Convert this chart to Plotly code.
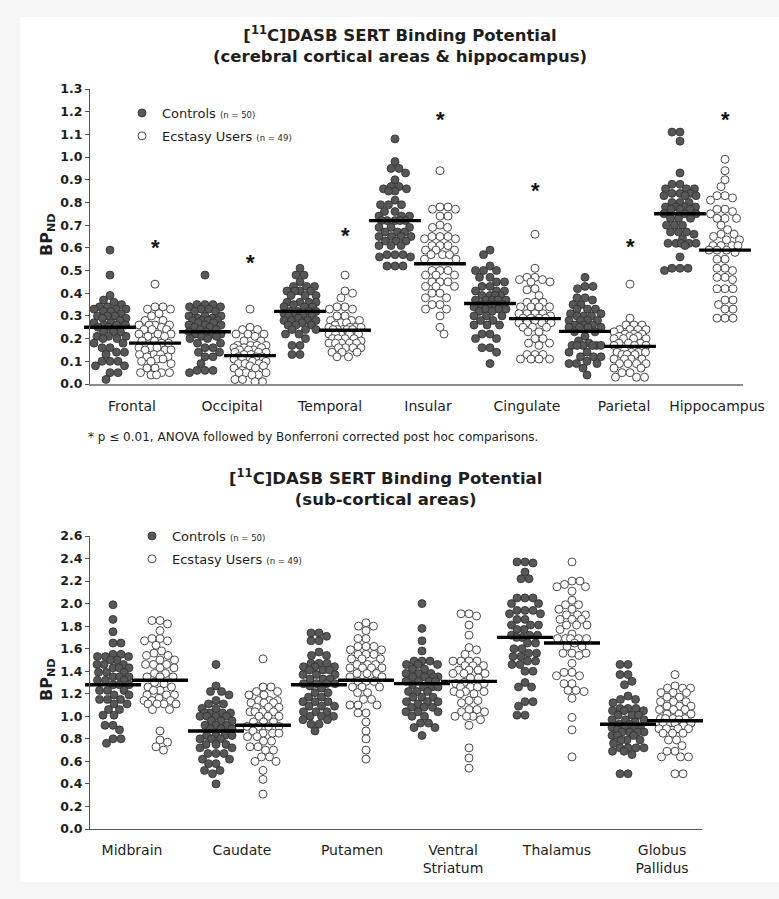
import math
import plotly.graph_objects as go

# ---------------- data ----------------
top_regions = ["Frontal", "Occipital", "Temporal", "Insular", "Cingulate", "Parietal", "Hippocampus"]
bottom_regions = ["Midbrain", "Caudate", "Putamen", "Ventral<br>Striatum", "Thalamus", "Globus<br>Pallidus"]

frontal_ctrl = [0.59,0.48,0.39,0.37,0.36,0.35,0.34,0.34,0.33,0.33,0.33,0.32,0.32,0.31,0.30,0.30,0.30,0.29,0.29,0.28,
                0.27,0.27,0.26,0.26,0.26,0.25,0.25,0.23,0.23,0.23,0.21,0.21,0.21,0.20,0.20,0.18,0.18,0.16,0.16,0.14,
                0.14,0.13,0.10,0.10,0.10,0.08,0.08,0.05,0.05,0.02]
frontal_ecs = [0.44,0.34,0.34,0.33,0.33,0.31,0.30,0.28,0.28,0.26,0.26,0.26,0.26,0.25,0.24,0.24,0.24,0.22,0.22,0.22,
               0.21,0.21,0.19,0.19,0.18,0.18,0.16,0.16,0.16,0.15,0.15,0.15,0.13,0.13,0.13,0.12,0.12,0.11,0.11,0.10,
               0.10,0.09,0.07,0.07,0.05,0.05,0.05,0.04,0.04]
occipital_ctrl = [0.48,0.35,0.35,0.35,0.34,0.34,0.33,0.33,0.32,0.32,0.30,0.30,0.30,0.29,0.29,0.28,0.28,0.28,0.28,0.27,
                  0.27,0.26,0.26,0.26,0.25,0.25,0.24,0.24,0.23,0.23,0.22,0.22,0.22,0.21,0.21,0.20,0.20,0.18,0.18,0.16,
                  0.16,0.14,0.14,0.12,0.12,0.09,0.06,0.06,0.06,0.05]
occipital_ecs = [0.33,0.25,0.24,0.24,0.22,0.22,0.22,0.21,0.19,0.19,0.17,0.17,0.17,0.17,0.16,0.16,0.16,0.15,0.15,0.15,
                 0.14,0.14,0.14,0.13,0.13,0.12,0.12,0.12,0.11,0.11,0.11,0.10,0.10,0.09,0.09,0.09,0.08,0.08,0.07,0.07,
                 0.05,0.05,0.05,0.04,0.04,0.02,0.02,0.01,0.01]
temporal_ctrl = [0.51,0.48,0.48,0.45,0.43,0.43,0.43,0.41,0.41,0.41,0.41,0.39,0.39,0.39,0.36,0.36,0.36,0.36,0.35,0.34,
                 0.34,0.34,0.32,0.32,0.32,0.32,0.31,0.30,0.30,0.30,0.30,0.29,0.28,0.28,0.28,0.28,0.27,0.26,0.26,0.26,
                 0.24,0.24,0.24,0.22,0.22,0.20,0.17,0.17,0.13,0.13]
temporal_ecs = [0.48,0.41,0.40,0.38,0.34,0.34,0.33,0.33,0.30,0.30,0.28,0.28,0.28,0.27,0.27,0.26,0.25,0.25,0.25,0.25,
                0.24,0.24,0.24,0.24,0.24,0.22,0.22,0.22,0.22,0.22,0.20,0.20,0.20,0.20,0.19,0.18,0.18,0.18,0.18,0.18,
                0.16,0.16,0.16,0.16,0.14,0.14,0.14,0.12,0.12]
insular_ctrl = [1.08,0.98,0.95,0.95,0.93,0.90,0.87,0.87,0.86,0.86,0.85,0.85,0.81,0.79,0.79,0.79,0.76,0.76,0.74,0.74,
                0.74,0.72,0.72,0.72,0.72,0.72,0.69,0.69,0.69,0.67,0.67,0.67,0.65,0.65,0.65,0.65,0.63,0.63,0.63,0.61,
                0.61,0.61,0.57,0.57,0.57,0.56,0.56,0.52,0.52,0.52]
insular_ecs = [0.94,0.78,0.78,0.77,0.77,0.74,0.74,0.70,0.69,0.69,0.65,0.65,0.65,0.64,0.64,0.61,0.61,0.61,0.59,0.59,
               0.59,0.57,0.57,0.57,0.55,0.55,0.50,0.50,0.50,0.48,0.48,0.48,0.45,0.45,0.45,0.43,0.43,0.43,0.40,0.40,
               0.38,0.38,0.35,0.35,0.33,0.33,0.30,0.25,0.22]
cingulate_ctrl = [0.59,0.57,0.52,0.50,0.50,0.50,0.47,0.47,0.45,0.45,0.43,0.43,0.41,0.41,0.41,0.39,0.39,0.39,0.39,0.37,
                  0.37,0.37,0.37,0.37,0.35,0.35,0.35,0.35,0.34,0.33,0.33,0.33,0.32,0.32,0.30,0.30,0.30,0.28,0.28,0.26,
                  0.26,0.26,0.22,0.22,0.20,0.20,0.16,0.16,0.14,0.09]
cingulate_ecs = [0.66,0.51,0.47,0.47,0.46,0.46,0.45,0.45,0.42,0.415,0.39,0.36,0.36,0.36,0.34,0.34,0.34,0.34,0.31,0.31,
                 0.31,0.31,0.30,0.29,0.29,0.29,0.29,0.28,0.27,0.27,0.27,0.27,0.25,0.25,0.25,0.23,0.23,0.20,0.20,0.18,
                 0.18,0.17,0.13,0.13,0.13,0.11,0.11,0.11,0.11]
parietal_ctrl = [0.47,0.43,0.43,0.42,0.38,0.38,0.37,0.35,0.35,0.33,0.33,0.33,0.31,0.31,0.30,0.30,0.30,0.28,0.28,0.28,
                 0.28,0.26,0.26,0.26,0.25,0.25,0.25,0.25,0.23,0.23,0.21,0.19,0.18,0.17,0.17,0.17,0.17,0.17,0.17,0.14,
                 0.14,0.12,0.12,0.12,0.10,0.09,0.09,0.09,0.07,0.04]
parietal_ecs = [0.44,0.29,0.26,0.26,0.26,0.24,0.24,0.24,0.24,0.23,0.22,0.22,0.22,0.21,0.21,0.21,0.20,0.20,0.20,0.20,
                0.18,0.18,0.18,0.17,0.17,0.17,0.15,0.14,0.14,0.14,0.14,0.13,0.13,0.13,0.11,0.11,0.11,0.11,0.09,0.09,
                0.09,0.09,0.07,0.07,0.05,0.05,0.03,0.03,0.03]
hippocampus_ctrl = [1.11,1.11,1.07,0.93,0.88,0.88,0.86,0.86,0.86,0.84,0.84,0.84,0.83,0.83,0.83,0.80,0.80,0.80,0.78,0.78,
                    0.78,0.78,0.77,0.77,0.77,0.75,0.75,0.75,0.73,0.73,0.73,0.70,0.70,0.70,0.67,0.67,0.67,0.66,0.64,0.62,
                    0.62,0.62,0.62,0.62,0.61,0.56,0.51,0.51,0.51,0.50]
hippocampus_ecs = [0.99,0.94,0.90,0.87,0.83,0.83,0.82,0.81,0.77,0.77,0.76,0.75,0.73,0.73,0.73,0.70,0.68,0.66,0.66,0.65,
                   0.635,0.635,0.61,0.61,0.61,0.61,0.59,0.59,0.59,0.58,0.55,0.55,0.51,0.51,0.50,0.47,0.47,0.46,0.42,0.42,
                   0.42,0.37,0.37,0.35,0.33,0.33,0.29,0.29,0.29]

midbrain_ctrl = [1.99,1.86,1.75,1.65,1.65,1.55,1.55,1.53,1.53,1.53,1.50,1.50,1.46,1.46,1.46,1.43,1.43,1.43,1.39,1.39,
                 1.39,1.35,1.35,1.35,1.32,1.32,1.32,1.28,1.28,1.28,1.23,1.23,1.23,1.19,1.19,1.15,1.15,1.15,1.11,1.11,
                 1.06,1.06,1.01,1.01,0.92,0.92,0.88,0.80,0.80,0.76]
midbrain_ecs = [1.85,1.85,1.82,1.76,1.69,1.69,1.67,1.67,1.63,1.58,1.56,1.54,1.54,1.50,1.50,1.46,1.46,1.46,1.43,1.43,
                1.38,1.38,1.35,1.35,1.35,1.30,1.29,1.26,1.26,1.23,1.23,1.19,1.19,1.19,1.16,1.14,1.14,1.14,1.11,1.11,
                1.11,1.11,1.06,1.06,0.87,0.79,0.77,0.73,0.70]
caudate_ctrl = [1.46,1.27,1.22,1.22,1.19,1.14,1.11,1.11,1.07,1.07,1.03,1.03,1.03,1.03,1.00,1.00,1.00,1.00,0.96,0.96,
                0.96,0.92,0.92,0.92,0.89,0.89,0.89,0.83,0.83,0.83,0.83,0.80,0.80,0.80,0.75,0.75,0.75,0.72,0.72,0.67,
                0.67,0.67,0.62,0.62,0.58,0.58,0.52,0.52,0.49,0.40]
caudate_ecs = [1.51,1.26,1.26,1.22,1.22,1.19,1.19,1.14,1.14,1.14,1.12,1.12,1.12,1.08,1.08,1.08,1.04,1.04,1.04,1.04,
               1.00,1.00,1.00,0.95,0.95,0.95,0.91,0.91,0.91,0.91,0.87,0.85,0.85,0.85,0.82,0.82,0.78,0.78,0.73,0.73,
               0.70,0.70,0.64,0.64,0.60,0.60,0.52,0.44,0.31]
putamen_ctrl = [1.74,1.74,1.71,1.67,1.67,1.57,1.54,1.54,1.47,1.47,1.47,1.44,1.44,1.44,1.41,1.41,1.41,1.37,1.37,1.37,
                1.33,1.33,1.33,1.29,1.29,1.29,1.29,1.27,1.25,1.21,1.21,1.17,1.17,1.13,1.13,1.13,1.09,1.09,1.09,1.04,
                1.04,1.04,1.00,1.00,1.00,0.97,0.97,0.93,0.93,0.87]
putamen_ecs = [1.83,1.80,1.80,1.76,1.69,1.69,1.62,1.62,1.62,1.59,1.59,1.55,1.55,1.55,1.51,1.51,1.51,1.46,1.46,1.46,
               1.43,1.43,1.43,1.43,1.38,1.38,1.38,1.35,1.35,1.31,1.31,1.31,1.26,1.26,1.26,1.21,1.21,1.15,1.15,1.10,
               1.10,1.10,1.03,1.03,0.95,0.87,0.80,0.70,0.62]
vs_ctrl = [2.00,1.78,1.67,1.58,1.49,1.49,1.49,1.46,1.46,1.46,1.42,1.42,1.38,1.38,1.38,1.35,1.35,1.35,1.35,1.31,
           1.31,1.31,1.31,1.28,1.26,1.26,1.26,1.22,1.22,1.22,1.17,1.17,1.17,1.13,1.13,1.13,1.11,1.08,1.08,1.08,
           1.04,1.04,1.04,1.00,1.00,0.94,0.94,0.90,0.90,0.83]
vs_ecs = [1.91,1.91,1.89,1.81,1.72,1.61,1.59,1.55,1.49,1.49,1.49,1.49,1.45,1.45,1.45,1.41,1.41,1.41,1.38,1.38,
          1.38,1.34,1.34,1.30,1.29,1.29,1.26,1.26,1.26,1.22,1.22,1.22,1.20,1.20,1.14,1.14,1.12,1.06,1.06,1.04,
          1.04,1.00,1.00,1.00,0.97,0.92,0.72,0.63,0.54]
thalamus_ctrl = [2.37,2.37,2.36,2.28,2.22,2.22,2.05,2.05,2.05,2.00,2.00,1.94,1.94,1.94,1.91,1.91,1.86,1.86,1.81,1.81,
                 1.81,1.77,1.77,1.72,1.72,1.72,1.70,1.70,1.65,1.65,1.60,1.60,1.56,1.56,1.53,1.53,1.49,1.49,1.46,1.46,
                 1.40,1.40,1.30,1.26,1.26,1.13,1.13,1.09,1.01,1.01]
thalamus_ecs = [2.37,2.20,2.20,2.17,2.15,2.15,2.11,2.03,1.99,1.99,1.95,1.95,1.90,1.90,1.90,1.86,1.86,1.86,1.81,1.81,
                1.81,1.77,1.73,1.69,1.69,1.69,1.69,1.69,1.65,1.62,1.62,1.56,1.56,1.56,1.54,1.47,1.39,1.39,1.36,1.36,
                1.29,1.29,1.23,1.23,1.22,1.16,0.99,0.88,0.64]
gp_ctrl = [1.46,1.46,1.37,1.37,1.31,1.28,1.18,1.15,1.15,1.12,1.07,1.07,1.07,1.05,1.05,1.05,1.01,1.01,1.01,0.97,
           0.97,0.97,0.95,0.93,0.93,0.90,0.90,0.90,0.90,0.88,0.86,0.86,0.86,0.86,0.83,0.83,0.83,0.79,0.79,0.79,
           0.76,0.72,0.72,0.72,0.72,0.69,0.69,0.66,0.49,0.49]
gp_ecs = [1.37,1.27,1.25,1.25,1.25,1.21,1.21,1.21,1.17,1.17,1.13,1.13,1.13,1.09,1.09,1.09,1.06,1.06,1.06,1.02,
          1.02,1.02,0.98,0.98,0.98,0.98,0.97,0.94,0.94,0.94,0.94,0.92,0.89,0.89,0.89,0.89,0.85,0.85,0.85,0.79,
          0.79,0.74,0.69,0.69,0.64,0.64,0.64,0.49,0.49]

# group centre lines (as drawn)
top_ctrl_line = [0.25, 0.23, 0.32, 0.72, 0.355, 0.232, 0.75]
top_ecs_line = [0.18, 0.125, 0.237, 0.53, 0.288, 0.166, 0.59]
bottom_ctrl_line = [1.28, 0.87, 1.28, 1.29, 1.70, 0.93]
bottom_ecs_line = [1.32, 0.92, 1.32, 1.31, 1.65, 0.96]

# significance stars (top panel, above the ecstasy groups)
top_star_y = [0.626, 0.56, 0.68, 1.19, 0.877, 0.634, 1.19]

top_ctrl = [frontal_ctrl, occipital_ctrl, temporal_ctrl, insular_ctrl, cingulate_ctrl, parietal_ctrl, hippocampus_ctrl]
top_ecs = [frontal_ecs, occipital_ecs, temporal_ecs, insular_ecs, cingulate_ecs, parietal_ecs, hippocampus_ecs]
bottom_ctrl = [midbrain_ctrl, caudate_ctrl, putamen_ctrl, vs_ctrl, thalamus_ctrl, gp_ctrl]
bottom_ecs = [midbrain_ecs, caudate_ecs, putamen_ecs, vs_ecs, thalamus_ecs, gp_ecs]

# ---------------- layout geometry ----------------
W, H = 779, 899
ML, MR, MT, MB = 90, 36, 89, 70
PW = W - ML - MR          # 653
PH = H - MT - MB          # 740

def px_x(p):
    return (p - ML) / PW

def px_y(p):
    return (H - MB - p) / PH

top_dom = [px_y(384), 1.0]
bot_dom = [0.0, px_y(536)]
bot_xdom = [0.0, 612 / PW]

TOP_XPX, TOP_YPX = 95.0, (384 - 89) / 1.3
BOT_XPX, BOT_YPX = 103.0, (829 - 536) / 2.6
TOP_ECS_OFF = 45 / TOP_XPX
BOT_ECS_OFF = 47 / BOT_XPX
top_xrange = [-20 / TOP_XPX, -20 / TOP_XPX + PW / TOP_XPX]
bot_xrange = [-23 / BOT_XPX, -23 / BOT_XPX + 612 / BOT_XPX]

top_label_pos = [(p - 110) / TOP_XPX for p in [132, 232, 330, 428, 527, 624, 717]]
bot_label_pos = [(p - 113) / BOT_XPX for p in [132, 242, 352, 453, 557, 662]]


def swarm(vals, xpx, ypx, d=7.8, half=16.0):
    """Beeswarm offsets (data units) with a capped half-width; overlaps allowed when crowded."""
    cands = [i * 0.5 for i in range(int(-2 * half), int(2 * half) + 1)]
    order = sorted(range(len(vals)), key=lambda k: -vals[k])
    placed = []
    offs = [0.0] * len(vals)
    for n, k in enumerate(order):
        y = vals[k] * ypx
        near = [(xj, yj) for xj, yj in placed if abs(yj - y) < d]
        if not near:
            chosen = 0.0
        else:
            sgn = 1 if n % 2 else -1
            best, best_key = 0.0, None
            for c in cands:
                m = min(math.hypot(c - xj, y - yj) for xj, yj in near)
                ok = m >= d
                key = (0, abs(c), sgn * c) if ok else (1, -m, abs(c))
                if best_key is None or key < best_key:
                    best, best_key = c, key
            chosen = best
        placed.append((chosen, y))
        offs[k] = chosen / xpx
    return offs


def build(groups, base_off, xpx, ypx):
    xs, ys = [], []
    for i, vals in enumerate(groups):
        offs = swarm(vals, xpx, ypx)
        xs += [i + base_off + o for o in offs]
        ys += list(vals)
    return xs, ys


FONT = "DejaVu Sans"
TXT = "#1e1e1e"
CTRL_FILL, CTRL_LINE = "#575757", "#2e2e2e"
ECS_FILL, ECS_LINE = "#ffffff", "#4a4a4a"
MS = 8

fig = go.Figure()

# top panel points
cx, cy = build(top_ctrl, 0.0, TOP_XPX, TOP_YPX)
ex, ey = build(top_ecs, TOP_ECS_OFF, TOP_XPX, TOP_YPX)
fig.add_trace(go.Scatter(x=cx, y=cy, mode="markers", xaxis="x", yaxis="y", cliponaxis=False,
                         name='Controls <span style="font-size:8.5px">(n = 50)</span>',
                         legend="legend", legendgroup="c",
                         marker=dict(size=MS, color=CTRL_FILL, line=dict(color=CTRL_LINE, width=0.8))))
fig.add_trace(go.Scatter(x=ex, y=ey, mode="markers", xaxis="x", yaxis="y", cliponaxis=False,
                         name='Ecstasy Users <span style="font-size:8.5px">(n = 49)</span>',
                         legend="legend", legendgroup="e",
                         marker=dict(size=MS, color=ECS_FILL, line=dict(color=ECS_LINE, width=1))))
# top centre lines
fig.add_trace(go.Scatter(
    x=[i for i in range(len(top_ctrl_line))] + [i + TOP_ECS_OFF for i in range(len(top_ecs_line))],
    y=top_ctrl_line + top_ecs_line, mode="markers", xaxis="x", yaxis="y", showlegend=False,
    cliponaxis=False, hoverinfo="skip",
    marker=dict(symbol="line-ew-open", size=37, color="black", line=dict(color="black", width=3.4))))

# bottom panel points
bcx, bcy = build(bottom_ctrl, 0.0, BOT_XPX, BOT_YPX)
bex, bey = build(bottom_ecs, BOT_ECS_OFF, BOT_XPX, BOT_YPX)
fig.add_trace(go.Scatter(x=bcx, y=bcy, mode="markers", xaxis="x2", yaxis="y2", cliponaxis=False,
                         name='Controls <span style="font-size:8.5px">(n = 50)</span>',
                         legend="legend2", legendgroup="c2",
                         marker=dict(size=MS, color=CTRL_FILL, line=dict(color=CTRL_LINE, width=0.8))))
fig.add_trace(go.Scatter(x=bex, y=bey, mode="markers", xaxis="x2", yaxis="y2", cliponaxis=False,
                         name='Ecstasy Users <span style="font-size:8.5px">(n = 49)</span>',
                         legend="legend2", legendgroup="e2",
                         marker=dict(size=MS, color=ECS_FILL, line=dict(color=ECS_LINE, width=1))))
fig.add_trace(go.Scatter(
    x=[i for i in range(len(bottom_ctrl_line))] + [i + BOT_ECS_OFF for i in range(len(bottom_ecs_line))],
    y=bottom_ctrl_line + bottom_ecs_line, mode="markers", xaxis="x2", yaxis="y2", showlegend=False,
    cliponaxis=False, hoverinfo="skip",
    marker=dict(symbol="line-ew-open", size=40, color="black", line=dict(color="black", width=3.4))))

annotations = []
# stars
for i, sy in enumerate(top_star_y):
    annotations.append(dict(x=i + TOP_ECS_OFF, y=sy, xref="x", yref="y", text="<b>*</b>", showarrow=False,
                            font=dict(family="Liberation Sans", size=22, color="#111"), yshift=-6))
# titles
annotations.append(dict(x=px_x(400), y=px_y(44), xref="paper", yref="paper", showarrow=False,
                        xanchor="center", yanchor="middle",
                        text="<b>[<sup>11</sup>C]DASB SERT Binding Potential</b><br><b>(cerebral cortical areas &amp; hippocampus)</b>",
                        font=dict(family=FONT, size=16.5, color=TXT)))
annotations.append(dict(x=px_x(385), y=px_y(488), xref="paper", yref="paper", showarrow=False,
                        xanchor="center", yanchor="middle",
                        text="<b>[<sup>11</sup>C]DASB SERT Binding Potential</b><br><b>(sub-cortical areas)</b>",
                        font=dict(family=FONT, size=16.5, color=TXT)))
# footnote
annotations.append(dict(x=px_x(86), y=px_y(437), xref="paper", yref="paper", showarrow=False,
                        xanchor="left", yanchor="middle",
                        text="* p \u2264 0.01, ANOVA followed by Bonferroni corrected post hoc comparisons.",
                        font=dict(family=FONT, size=12, color=TXT)))
# y titles
for yc in (235, 680):
    annotations.append(dict(x=px_x(47), y=px_y(yc), xref="paper", yref="paper", showarrow=False,
                            xanchor="center", yanchor="middle", textangle=-90,
                            text="<b>BP<sub>ND</sub></b>", font=dict(family=FONT, size=16, color=TXT)))

axis_common = dict(showgrid=False, zeroline=False, showline=True)
fig.update_layout(
    width=W, height=H,
    margin=dict(l=ML, r=MR, t=MT, b=MB),
    paper_bgcolor="#f5f5f5", plot_bgcolor="rgba(0,0,0,0)",
    font=dict(family=FONT, color=TXT),
    xaxis=dict(domain=[0, 1], anchor="y", range=top_xrange, tickmode="array",
               tickvals=top_label_pos, ticktext=top_regions, ticks="", ticklabelstandoff=8,
               tickfont=dict(family=FONT, size=14, color=TXT), linecolor="#8c8c8c", linewidth=1.6,
               **axis_common),
    yaxis=dict(domain=top_dom, anchor="x", range=[0, 1.3], tickmode="linear", tick0=0, dtick=0.1,
               tickformat=".1f", ticks="outside", ticklen=4, tickcolor="#555", linecolor="#555",
               linewidth=1, tickfont=dict(family=FONT, size=12.5, color=TXT, weight="bold"),
               **axis_common),
    xaxis2=dict(domain=bot_xdom, anchor="y2", range=bot_xrange, tickmode="array",
                tickvals=bot_label_pos, ticktext=bottom_regions, ticks="", ticklabelstandoff=8,
                tickfont=dict(family=FONT, size=14, color=TXT), linecolor="#555", linewidth=1,
                **axis_common),
    yaxis2=dict(domain=bot_dom, anchor="x2", range=[0, 2.6], tickmode="linear", tick0=0, dtick=0.2,
                tickformat=".1f", ticks="outside", ticklen=4, tickcolor="#555", linecolor="#555",
                linewidth=1, tickfont=dict(family=FONT, size=12.5, color=TXT, weight="bold"),
                **axis_common),
    legend=dict(x=px_x(122), y=px_y(98), xanchor="left", yanchor="top", bgcolor="rgba(0,0,0,0)",
                font=dict(family=FONT, size=13, color=TXT), tracegroupgap=3, itemclick=False),
    legend2=dict(x=px_x(132), y=px_y(521), xanchor="left", yanchor="top", bgcolor="rgba(0,0,0,0)",
                 font=dict(family=FONT, size=13, color=TXT), tracegroupgap=3, itemclick=False),
    annotations=annotations,
    shapes=[dict(type="rect", xref="paper", yref="paper", layer="below",
                 x0=px_x(20), x1=px_x(779 + 5), y0=px_y(882), y1=px_y(17),
                 fillcolor="white", line=dict(width=0))],
    showlegend=True,
)

fig.write_html("out.html", config={"displayModeBar": False},
               post_script="document.body.style.margin='0px';document.body.style.background='#f5f5f5';")
